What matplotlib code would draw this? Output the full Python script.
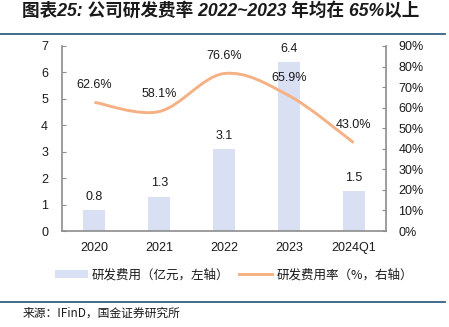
import matplotlib
matplotlib.use("Agg")
import matplotlib.pyplot as plt
from matplotlib.path import Path
from matplotlib.patches import PathPatch
from matplotlib.lines import Line2D
from matplotlib.patches import Patch
import numpy as np

categories = ["2020", "2021", "2022", "2023", "2024Q1"]
rd_expense = [0.8, 1.3, 3.1, 6.4, 1.5]          # 亿元, left axis
rd_ratio = [62.6, 58.1, 76.6, 65.9, 43.0]        # %, right axis
left_ticks = [0, 1, 2, 3, 4, 5, 6, 7]
right_ticks = [0, 10, 20, 30, 40, 50, 60, 70, 80, 90]

title = "图表25: 公司研发费率 2022~2023 年均在 65%以上"
legend_bar = "研发费用（亿元，左轴）"
legend_line = "研发费用率（%，右轴）"
source = "来源：IFinD，国金证券研究所"

FONT = ["Liberation Sans", "Noto Sans CJK SC", "DejaVu Sans"]
CJK = ["Noto Sans CJK SC", "DejaVu Sans"]
plt.rcParams["font.family"] = FONT

BAR_C = "#D9E0F3"
LINE_C = "#F5B184"
SPINE_C = "#8C8C8C"
RULE_C = "#35607F"
TXT = "#1A1A1A"

W, H = 449, 327
fig = plt.figure(figsize=(W / 100, H / 100), dpi=100)
L, R, T, B = 62, 386, 46, 231
ax = fig.add_axes([L / W, 1 - B / H, (R - L) / W, (B - T) / H])
ax2 = ax.twinx()

x = np.arange(len(categories))
bars = ax.bar(x, rd_expense, width=0.34, color=BAR_C, zorder=1)
ax.set_xlim(-0.5, len(categories) - 0.5)
ax.set_ylim(0, 7)
ax.set_yticks(left_ticks)
ax.set_xticks(x)
ax.set_xticklabels(categories)
ax2.set_ylim(0, 90)
ax2.set_yticks(right_ticks)
ax2.set_yticklabels([f"{t}%" for t in right_ticks])

for a in (ax, ax2):
    for s in a.spines.values():
        s.set_visible(False)
ax.spines["left"].set_visible(True)
ax.spines["bottom"].set_visible(True)
ax2.spines["right"].set_visible(True)
for s in (ax.spines["left"], ax.spines["bottom"], ax2.spines["right"]):
    s.set_color(SPINE_C)
    s.set_linewidth(1.2)

ax.tick_params(axis="y", direction="in", length=3, color=SPINE_C, pad=10,
               labelsize=9, labelcolor=TXT)
ax.tick_params(axis="x", length=0, pad=8, labelsize=9, labelcolor=TXT)
ax2.tick_params(axis="y", direction="in", length=3, color=SPINE_C, pad=9,
                labelsize=9, labelcolor=TXT)

# smooth line (Catmull-Rom -> cubic Bezier), in data coordinates of ax2
pts = np.column_stack([x, rd_ratio]).astype(float)
ext = np.vstack([pts[0], pts, pts[-1]])
verts = [tuple(pts[0])]
codes = [Path.MOVETO]
for i in range(len(pts) - 1):
    p0, p1, p2, p3 = ext[i], ext[i + 1], ext[i + 2], ext[i + 3]
    c1 = p1 + (p2 - p0) / 6.0
    c2 = p2 - (p3 - p1) / 6.0
    verts += [tuple(c1), tuple(c2), tuple(p2)]
    codes += [Path.CURVE4] * 3
ax2.add_patch(PathPatch(Path(verts, codes), facecolor="none", edgecolor=LINE_C,
                        linewidth=2.1, capstyle="butt", zorder=3))

for xi, v in zip(x, rd_expense):
    ax.annotate(f"{v:.1f}", (xi, v), xytext=(0, 9.5), textcoords="offset points",
                ha="center", va="center", fontsize=9, color=TXT)
for xi, v in zip(x, rd_ratio):
    ax2.annotate(f"{v:.1f}%", (xi, v), xytext=(0, 12.5), textcoords="offset points",
                 ha="center", va="center", fontsize=9, color=TXT)

# title and rules
fig.text(22 / W, 1 - 11 / H, title, fontsize=12.7, fontweight="bold", fontstyle="italic",
         ha="left", va="center", color=TXT, family=FONT)
fig.add_artist(Line2D([0, 445 / W], [1 - 33.5 / H] * 2, color=RULE_C, linewidth=1.3))
fig.add_artist(Line2D([0, 445 / W], [1 - 302 / H] * 2, color=RULE_C, linewidth=1.3))
fig.text(23 / W, 1 - 313 / H, source, fontsize=8.5, ha="left", va="center",
         color=TXT, family=CJK)

handles = [Patch(facecolor=BAR_C, edgecolor="none"),
           Line2D([], [], color=LINE_C, linewidth=2.1)]
fig.legend(handles, [legend_bar, legend_line], loc="center",
           bbox_to_anchor=(234 / W, 1 - 275 / H), ncol=2, frameon=False,
           prop={"family": CJK, "size": 9}, handlelength=2.6, handleheight=0.55,
           handletextpad=0.35, columnspacing=0.8, labelcolor=TXT)

fig.savefig("out.png", dpi=100)
